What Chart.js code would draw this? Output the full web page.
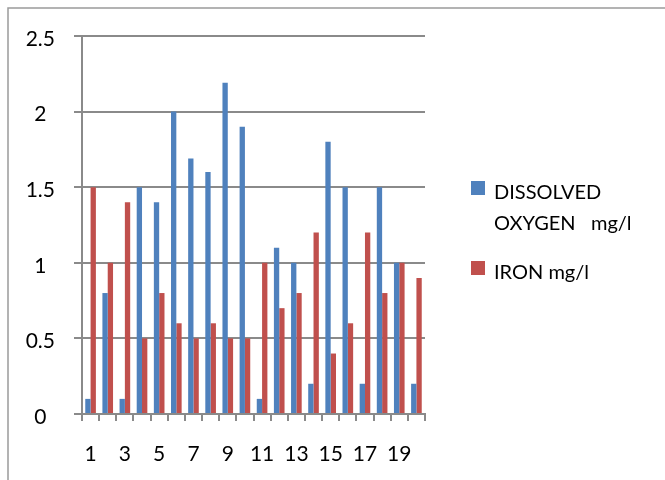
<!DOCTYPE html>
<html>
<head>
<meta charset="utf-8">
<script src="https://cdn.jsdelivr.net/npm/chart.js@4"></script>
<style>
  html, body { margin: 0; padding: 0; background: #fff; }
  #wrap { width: 665px; height: 480px; position: relative; }
</style>
</head>
<body>
<div id="wrap"><canvas id="chart" width="665" height="480"></canvas></div>
<script>
// sample numbers 1..20
const samples = ['1','2','3','4','5','6','7','8','9','10','11','12','13','14','15','16','17','18','19','20'];
const oxygen = [0.1, 0.8, 0.1, 1.5, 1.4, 2.0, 1.69, 1.6, 2.19, 1.9, 0.1, 1.1, 1.0, 0.2, 1.8, 1.5, 0.2, 1.5, 1.0, 0.2];
const iron = [1.5, 1.0, 1.4, 0.5, 0.8, 0.6, 0.5, 0.6, 0.5, 0.5, 1.0, 0.7, 0.8, 1.2, 0.4, 0.6, 1.2, 0.8, 1.0, 0.9];
const seriesNames = ['DISSOLVED OXYGEN  mg/l', 'IRON mg/l'];
const seriesColors = ['#4F81BD', '#C0504D'];

const FONT = 'Lato, "Liberation Sans", sans-serif';
const gridGrey = '#8a8a8a';

// outer frame, only top and left edges fall inside the window
const framePlugin = {
    id: 'frame',
    beforeDraw(chart) {
        const ctx = chart.ctx;
        ctx.save();
        ctx.strokeStyle = '#9a9a9a';
        ctx.lineWidth = 1.5;
        ctx.strokeRect(8, 8, 700, 520);
        ctx.restore();
    }
};

// legend on the right, long name wraps onto two lines
const sideLegend = {
    id: 'sideLegend',
    afterDraw(chart) {
        const ctx = chart.ctx;
        ctx.save();
        ctx.font = '20px ' + FONT;
        ctx.textBaseline = 'alphabetic';
        ctx.fillStyle = '#000';
        const lines = [['DISSOLVED', 'OXYGEN   mg/l'], [seriesNames[1]]];
        const tops = [181, 261];
        chart.data.datasets.forEach((ds, i) => {
            ctx.fillStyle = ds.backgroundColor;
            ctx.fillRect(471, tops[i], 14, 14);
            ctx.fillStyle = '#000';
            lines[i].forEach((t, j) => ctx.fillText(t, 494, tops[i] + 18 + j * 31));
        });
        ctx.restore();
    }
};

new Chart(document.getElementById('chart'), {
    type: 'bar',
    data: {
        labels: samples,
        datasets: [
            { label: seriesNames[0], data: oxygen, backgroundColor: seriesColors[0] },
            { label: seriesNames[1], data: iron, backgroundColor: seriesColors[1] }
        ]
    },
    options: {
        responsive: false,
        animation: false,
        devicePixelRatio: 1,
        layout: { padding: { left: 0, top: 36, right: 240, bottom: 0 } },
        datasets: { bar: { categoryPercentage: 0.62, barPercentage: 1 } },
        plugins: { legend: { display: false }, tooltip: { enabled: false } },
        scales: {
            x: {
                grid: { drawOnChartArea: false, drawTicks: true, tickLength: 7, color: gridGrey, lineWidth: 2 },
                border: { color: gridGrey, width: 2 },
                ticks: {
                    autoSkip: false, maxRotation: 0, padding: 21,
                    color: '#000', font: { family: FONT, size: 21 },
                    callback: (v, i) => i % 2 === 0 ? samples[i] : ''
                },
                afterFit: s => { s.height = 66; }
            },
            y: {
                min: 0, max: 2.5,
                grid: { color: gridGrey, lineWidth: 2, tickLength: 8 },
                border: { color: gridGrey, width: 2 },
                ticks: {
                    stepSize: 0.5, padding: 19, crossAlign: 'center', labelOffset: 3,
                    color: '#000', font: { family: FONT, size: 21 },
                    callback: v => String(v)
                },
                afterFit: s => { s.width = 82; }
            }
        }
    },
    plugins: [framePlugin, sideLegend]
});
</script>
</body>
</html>
